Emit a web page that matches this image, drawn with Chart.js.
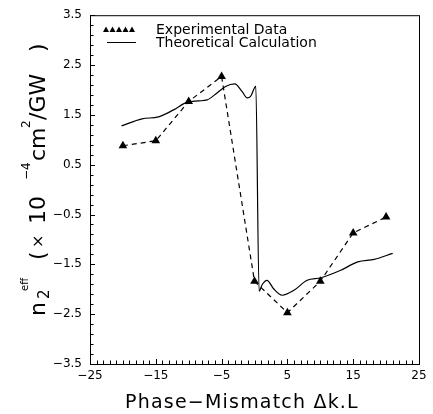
<!DOCTYPE html>
<html>
<head>
<meta charset="utf-8">
<script src="https://cdn.jsdelivr.net/npm/chart.js@4/dist/chart.umd.min.js"></script>
<style>
  body { margin: 0; background: #fff; }
  .chart-container { position: relative; width: 433px; height: 414px; }
</style>
</head>
<body>
<div class="chart-container"><canvas id="chart"></canvas></div>
<script>
// experimental points
const expX = [-20, -15, -10, -5, 0, 5, 10, 15, 20];
const expY = [0.88, 0.98, 1.77, 2.27, -1.84, -2.47, -1.84, -0.87, -0.55];

// theoretical curve
const theoX = [-20.2, -17.1, -14.6, -12.3, -10.3, -8.5, -7.2, -5.7, -4.4, -3.0, -1.9, -1.1, -0.6, 0.2,
  0.7, 1.2, 1.9, 2.9, 4.2, 6.0, 8.0, 10.1, 13.1, 15.7, 18.2, 21.0];
const theoY = [1.28, 1.42, 1.46, 1.60, 1.75, 1.78, 1.80, 1.94, 2.07, 2.12, 1.97, 1.84, 1.87, 2.07,
  -2.04, -1.90, -1.82, -1.99, -2.12, -2.02, -1.82, -1.77, -1.62, -1.45, -1.40, -1.28];

const xTickLabels = [-25, -15, -5, 5, 15, 25];
const yTickLabels = [3.5, 2.5, 1.5, 0.5, -0.5, -1.5, -2.5, -3.5];
const legendLabels = ["Experimental Data", "Theoretical Calculation"];

const FONT = "'DejaVu Sans', sans-serif";
const minus = (s) => s.replace("-", "\u2212");

const toPoints = (xs, ys) => xs.map((x, i) => ({ x: x, y: ys[i] }));

const frameAndText = {
  id: "frameAndText",
  afterDraw(chart) {
    const { ctx, chartArea: a, scales } = chart;
    ctx.save();
    ctx.strokeStyle = "#000";
    ctx.lineWidth = 1;
    ctx.strokeRect(a.left + 0.5, a.top + 0.5, a.right - a.left, a.bottom - a.top);

    // inward ticks
    ctx.beginPath();
    scales.x.ticks.forEach((t) => {
      const px = Math.round(scales.x.getPixelForValue(t.value)) + 0.5;
      const len = xTickLabels.includes(Math.round(t.value)) ? 5 : 3.5;
      ctx.moveTo(px, a.bottom);
      ctx.lineTo(px, a.bottom - len);
    });
    scales.y.ticks.forEach((t) => {
      const py = Math.round(scales.y.getPixelForValue(t.value)) + 0.5;
      const major = yTickLabels.some((v) => Math.abs(v - t.value) < 1e-6);
      ctx.moveTo(a.left, py);
      ctx.lineTo(a.left + (major ? 5 : 3.5), py);
    });
    ctx.stroke();

    // legend
    ctx.fillStyle = "#000";
    for (let i = 0; i < 5; i++) {
      const cx = a.left + 16 + i * 6.5;
      ctx.beginPath();
      ctx.moveTo(cx, 26.5);
      ctx.lineTo(cx + 3, 32);
      ctx.lineTo(cx - 3, 32);
      ctx.closePath();
      ctx.fill();
    }
    ctx.beginPath();
    ctx.moveTo(a.left + 17, 42.5);
    ctx.lineTo(a.left + 46, 42.5);
    ctx.stroke();
    ctx.font = "14px " + FONT;
    ctx.textBaseline = "middle";
    ctx.textAlign = "left";
    ctx.fillText(legendLabels[0], a.left + 66, 30);
    ctx.fillText(legendLabels[1], a.left + 66, 43);

    // x title
    ctx.font = "19px " + FONT;
    ctx.letterSpacing = "1.2px";
    ctx.textAlign = "center";
    ctx.textBaseline = "alphabetic";
    ctx.fillText("Phase\u2212Mismatch \u0394k.L", 242, 408);
    ctx.letterSpacing = "0px";

    // y title, rotated
    ctx.translate(45, 316);
    ctx.rotate(-Math.PI / 2);
    ctx.textAlign = "left";
    const parts = [
      ["n", 22, 0, 0], ["2", 15, 17, 4], ["eff", 10, 25, -17],
      ["(", 22, 56, 0], ["\u00d7", 16, 68, -2],
      ["10", 22, 92, 0], ["\u22124", 12, 136, -15],
      ["cm", 22, 155, 0], ["2", 12, 188, -15],
      ["/GW", 22, 196, 0], [")", 22, 264, 0],
    ];
    parts.forEach(([t, size, dx, dy]) => {
      ctx.font = size + "px " + FONT;
      ctx.fillText(t, dx, dy);
    });
    ctx.restore();
  },
};

const ctx = document.getElementById("chart").getContext("2d");
new Chart(ctx, {
  type: "scatter",
  data: {
    datasets: [
      {
        label: legendLabels[0],
        data: toPoints(expX, expY),
        showLine: true,
        borderColor: "#000",
        borderWidth: 1.2,
        borderDash: [5, 4],
        backgroundColor: "#000",
        pointStyle: "triangle",
        pointRadius: 5,
        pointBorderWidth: 0,
      },
      {
        label: legendLabels[1],
        data: toPoints(theoX, theoY),
        showLine: true,
        borderColor: "#000",
        borderWidth: 1.2,
        pointRadius: 0,
        cubicInterpolationMode: "monotone",
      },
    ],
  },
  options: {
    responsive: true,
    maintainAspectRatio: false,
    animation: false,
    layout: { padding: { left: 0, right: 14, top: 15, bottom: 0 } },
    plugins: { legend: { display: false }, tooltip: { enabled: false } },
    scales: {
      x: {
        type: "linear",
        min: -25,
        max: 25,
        grid: { display: false, drawTicks: false },
        border: { display: false },
        ticks: {
          stepSize: 1,
          autoSkip: false,
          maxRotation: 0,
          padding: 5,
          color: "#000",
          font: { family: FONT, size: 12 },
          callback: (v) => (xTickLabels.includes(Math.round(v)) && Math.abs(v - Math.round(v)) < 1e-6 ? minus(String(Math.round(v))) : ""),
        },
        afterFit: (s) => { s.height = 50; },
      },
      y: {
        min: -3.5,
        max: 3.5,
        grid: { display: false, drawTicks: false },
        border: { display: false },
        ticks: {
          stepSize: 0.2,
          autoSkip: false,
          padding: 8,
          color: "#000",
          font: { family: FONT, size: 12 },
          callback: (v) => {
            const hit = yTickLabels.find((t) => Math.abs(t - v) < 1e-6);
            return hit === undefined ? "" : minus(hit.toFixed(1));
          },
        },
        afterFit: (s) => { s.width = 90; },
      },
    },
  },
  plugins: [frameAndText],
});
</script>
</body>
</html>
